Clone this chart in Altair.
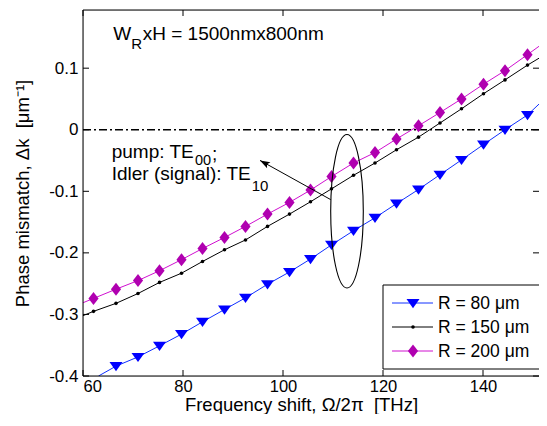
import altair as alt
import pandas as pd

FONT = "Liberation Sans"

# ---------------- data ----------------
series = ["R = 80 μm", "R = 150 μm", "R = 200 μm"]
line_colors = ["#1030ff", "#000000", "#d010d0"]
marker_colors = ["#0000ff", "#000000", "#b000b0"]

# marker positions (THz)
freq = [62.1, 66.6, 71.0, 75.3, 79.7, 83.9, 88.3, 92.5, 96.9, 101.3, 105.5,
        109.7, 114.1, 118.4, 122.7, 127.1, 131.4, 135.7, 140.1, 144.4, 148.9]
dk_r200 = [-0.274, -0.259, -0.245, -0.229, -0.211, -0.193, -0.175, -0.157, -0.137,
           -0.118, -0.098, -0.076, -0.054, -0.037, -0.015, 0.0065, 0.028, 0.050,
           0.074, 0.096, 0.122]
dk_r150 = [-0.295, -0.282, -0.266, -0.248, -0.233, -0.214, -0.195, -0.179, -0.157,
           -0.137, -0.117, -0.096, -0.074, -0.054, -0.0325, -0.012, 0.011, 0.034,
           0.0585, 0.081, 0.105]
# R = 80 um markers start at the second frequency (first one is below the axis)
dk_r80 = [-0.384, -0.369, -0.351, -0.332, -0.312, -0.292, -0.273, -0.251, -0.231,
          -0.210, -0.187, -0.164, -0.143, -0.120, -0.097, -0.073, -0.049, -0.024,
          0.000, 0.024]

# where each curve enters / leaves the frame
start_x = [63.1, 60.0, 60.0]
start_y = [-0.400, -0.302, -0.281]
end_x = [152.8, 152.8, 152.8]
end_y = [0.054, 0.124, 0.145]

x_ticks = [60, 80, 100, 120, 140]
y_ticks = [-0.4, -0.3, -0.2, -0.1, 0, 0.1]
x_domain = [60, 151.2]
y_domain = [-0.4, 0.1945]

x_title = "Frequency shift, Ω/2π\u00a0 [THz]"
y_title = "Phase mismatch, Δk\u00a0 [μm⁻¹]"

# annotation: ellipse centre / arrow (data units)
ellipse_x, ellipse_y = [112.8], [-0.1324]
arrow_x, arrow_y, arrow_x2, arrow_y2 = [109.54], [-0.1135], [95.4], [-0.0498]

# ---------------- tables ----------------
marker_sets = [(freq[1:], dk_r80), (freq, dk_r150), (freq, dk_r200)]
line_rows, mark_rows = [], []
for i, name in enumerate(series):
    fx, fy = marker_sets[i]
    pts = [(start_x[i], start_y[i])] + list(zip(fx, fy)) + [(end_x[i], end_y[i])]
    for k, (a, b) in enumerate(pts):
        line_rows.append({"s": name, "x": a, "y": b, "o": k})
    for a, b in zip(fx, fy):
        mark_rows.append({"s": name, "x": a, "y": b})
lines_df = pd.DataFrame(line_rows)
marks_df = pd.DataFrame(mark_rows)
one = pd.DataFrame({"a": [0]})

W, H = 456, 366
xs = alt.Scale(domain=x_domain, nice=False, zero=False)
ys = alt.Scale(domain=y_domain, nice=False, zero=False)

y_label_expr = "datum.value == 0 ? '0' : replace(format(datum.value, '.1f'), '\u2212', '-')"

AX_X = alt.Axis(
    values=x_ticks, ticks=False, domain=False, grid=False,
    labelFontSize=16.5, labelFont=FONT, labelColor="black", labelPadding=2,
    title=x_title, titleFont=FONT, titleFontSize=18.5,
    titleFontWeight="normal", titleColor="black", titleX=218, titleY=34,
    titleBaseline="alphabetic", titleAlign="center")
AX_Y = alt.Axis(
    values=y_ticks, ticks=False, domain=False, grid=False,
    labelFontSize=17, labelFont=FONT, labelColor="black", labelPadding=5,
    labelExpr=y_label_expr,
    title=y_title, titleFont=FONT, titleFontSize=18.5,
    titleFontWeight="normal", titleColor="black", titleX=-61, titleY=183,
    titleAngle=270, titleAlign="center", titleBaseline="middle")


def X(field):
    return alt.X(field, scale=xs, axis=AX_X)


def Y(field):
    return alt.Y(field, scale=ys, axis=AX_Y)


TRI = "M -1,-0.62 L 1,-0.62 L 0,0.8 Z"
DIA = "M 0,-1 L 0.78,0 L 0,1 L -0.78,0 Z"
shapes = [TRI, "circle", DIA]
sizes = [169, 13, 169]

zero_line = alt.Chart(one).mark_rule(color="black", strokeWidth=1.4,
                                     strokeDash=[8, 3, 2, 3]).encode(
    y=alt.datum(0, scale=ys, axis=AX_Y))

lines = alt.Chart(lines_df).mark_line(strokeWidth=1.0, clip=True).encode(
    x=X("x:Q"), y=Y("y:Q"),
    color=alt.Color("s:N", scale=alt.Scale(domain=series, range=line_colors), legend=None),
    detail="s:N",
    order="o:Q",
)

marker_layers = []
for i, name in enumerate(series):
    marker_layers.append(
        alt.Chart(marks_df).transform_filter(alt.datum.s == name).mark_point(
            shape=shapes[i], size=sizes[i], filled=True, opacity=1,
            color=marker_colors[i], clip=True).encode(x=X("x:Q"), y=Y("y:Q")))

# ellipse and arrow annotation
k = 0.5523
rx, ry = 0.2125, 1.0
ELL = (f"M {rx},0 C {rx},{k*ry} {k*rx},{ry} 0,{ry} C {-k*rx},{ry} {-rx},{k*ry} {-rx},0 "
       f"C {-rx},{-k*ry} {-k*rx},{-ry} 0,{-ry} C {k*rx},{-ry} {rx},{-k*ry} {rx},0 Z")
ell_df = pd.DataFrame({"x": ellipse_x, "y": ellipse_y})
ellipse = alt.Chart(ell_df).mark_point(shape=ELL, size=23532, filled=False,
                                       stroke="black", strokeWidth=1.1, opacity=1).encode(
    x=X("x:Q"), y=Y("y:Q"))

arr_df = pd.DataFrame({"x": arrow_x, "y": arrow_y, "x2": arrow_x2, "y2": arrow_y2})
arrow = alt.Chart(arr_df).mark_rule(color="black", strokeWidth=1.0).encode(
    x=X("x:Q"), y=Y("y:Q"), x2="x2:Q", y2="y2:Q")
HEAD = "M 0,0 L -1,-0.35 L -0.8,0 L -1,0.35 Z"
arrow_head = alt.Chart(arr_df).mark_point(shape=HEAD, size=400, filled=True,
                                          color="black", opacity=1, angle=209).encode(
    x=X("x2:Q"), y=Y("y2:Q"))


def txt(s, x, y, size):
    return alt.Chart(one).mark_text(text=s, align="left", baseline="alphabetic",
                                    font=FONT, fontSize=size, color="black").encode(
        x=alt.value(x), y=alt.value(y))


texts = [
    txt("W", 30.3, 30, 19), txt("R", 48.2, 39, 15), txt("xH = 1500nmx800nm", 59.7, 30, 19),
    txt("pump: TE", 28.7, 148.3, 19), txt("00", 112, 155, 14.5), txt(";", 129, 150, 19),
    txt("Idler (signal): TE", 28.7, 170, 19), txt("10", 168.7, 181, 15),
]

# frame (left, top, bottom; the right side is cut off in the original)
frame = [
    alt.Chart(one).mark_rule(color="black", strokeWidth=1).encode(
        x=alt.value(0), y=alt.value(0), y2=alt.value(H)),
    alt.Chart(one).mark_rule(color="black", strokeWidth=1).encode(
        y=alt.value(0), x=alt.value(0), x2=alt.value(W)),
    alt.Chart(one).mark_rule(color="black", strokeWidth=1).encode(
        y=alt.value(H), x=alt.value(0), x2=alt.value(W)),
]

# inward tick marks on all four sides
xt = pd.DataFrame({"v": x_ticks})
yt = pd.DataFrame({"v": y_ticks})
ticks = [
    alt.Chart(xt).mark_rule(color="black").encode(
        x=X("v:Q"), y=alt.value(H), y2=alt.value(H - 6)),
    alt.Chart(xt).mark_rule(color="black").encode(
        x=X("v:Q"), y=alt.value(0), y2=alt.value(6)),
    alt.Chart(yt).mark_rule(color="black").encode(
        y=Y("v:Q"), x=alt.value(0), x2=alt.value(6)),
    alt.Chart(yt).mark_rule(color="black").encode(
        y=Y("v:Q"), x=alt.value(W), x2=alt.value(W - 6)),
]

# legend box
legend = [alt.Chart(one).mark_rect(fill="white", stroke="black", strokeWidth=1).encode(
    x=alt.value(300), x2=alt.value(472), y=alt.value(275), y2=alt.value(359))]
row_y = [293, 317, 341]
for i, name in enumerate(series):
    legend.append(alt.Chart(one).mark_rule(color=line_colors[i], strokeWidth=1.0).encode(
        x=alt.value(309), x2=alt.value(350), y=alt.value(row_y[i])))
    legend.append(alt.Chart(one).mark_point(shape=shapes[i], size=sizes[i], filled=True,
                                            opacity=1, color=marker_colors[i]).encode(
        x=alt.value(330), y=alt.value(row_y[i])))
    legend.append(alt.Chart(one).mark_text(text=name, align="left", baseline="middle",
                                           font=FONT, fontSize=17.5, color="black").encode(
        x=alt.value(355), y=alt.value(row_y[i] + 1)))

chart = alt.layer(zero_line, lines, *marker_layers, ellipse, arrow, arrow_head,
                  *texts, *frame, *ticks, *legend).properties(
    width=W, height=H,
    padding={"left": 75, "top": 2, "right": 0, "bottom": 38},
    autosize=alt.AutoSizeParams(type="none"),
).configure_view(stroke=None).configure(background="white")

chart.save("out.html", embed_options={"renderer": "svg", "actions": False})
